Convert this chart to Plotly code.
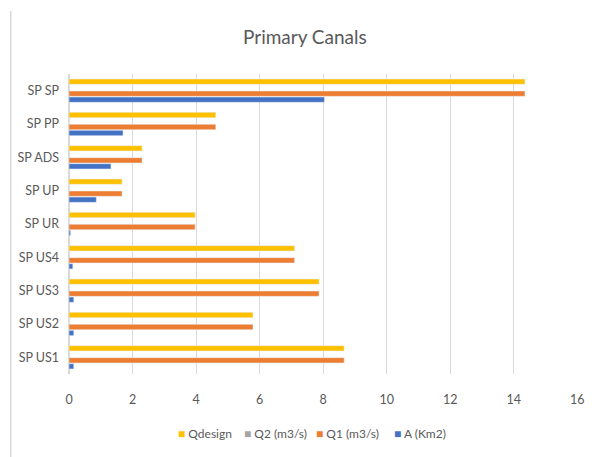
import plotly.graph_objects as go

categories = ["SP US1", "SP US2", "SP US3", "SP US4", "SP UR", "SP UP", "SP ADS", "SP PP", "SP SP"]
qdesign = [8.66, 5.79, 7.87, 7.10, 3.97, 1.67, 2.30, 4.62, 14.35]
q2 = [0, 0, 0, 0, 0, 0, 0, 0, 0]
q1 = [8.66, 5.79, 7.87, 7.10, 3.97, 1.67, 2.30, 4.62, 14.35]
area = [0.15, 0.15, 0.15, 0.12, 0.05, 0.86, 1.32, 1.70, 8.04]
x_ticks = [0, 2, 4, 6, 8, 10, 12, 14, 16]

series_names = ["A (Km2)", "Q1 (m3/s)", "Q2 (m3/s)", "Qdesign"]
series_colors = ["#4472C4", "#ED7D31", "#A5A5A5", "#FFC000"]
series_values = [area, q1, q2, qdesign]
legend_x = [0.634, 0.482, 0.339, 0.211]  # paper positions of legend entries

FONT = "Lato"
TXT = "#595959"

fig = go.Figure()
for name, color, vals in zip(series_names, series_colors, series_values):
    fig.add_trace(go.Bar(y=categories, x=vals, orientation="h", name=name,
                         marker_color=color, showlegend=False))

for name, color, lx in zip(series_names, series_colors, legend_x):
    fig.add_annotation(
        xref="paper", yref="paper", x=lx, y=-0.197, xanchor="left", yanchor="middle",
        showarrow=False,
        text=f"<span style='color:{color};font-size:12px'>■</span> {name}",
        font=dict(family=FONT, size=12, color=TXT),
    )

fig.update_layout(
    width=592, height=457,
    margin=dict(l=69, r=7, t=74, b=83),
    paper_bgcolor="white", plot_bgcolor="white",
    barmode="group", bargap=0.28, bargroupgap=0.12,
    font=dict(family=FONT, color=TXT, size=12),
    title=dict(text="Primary Canals", x=0.515, xanchor="center", y=0.919, yanchor="middle",
               font=dict(family=FONT, size=19, color=TXT)),
    showlegend=False,
)
fig.update_xaxes(range=[0, 16.02], tickvals=x_ticks, showgrid=True, gridcolor="#D9D9D9",
                 gridwidth=1, zeroline=True, zerolinecolor="#D9D9D9", showline=False,
                 ticks="", ticklabelstandoff=16, ticklabeloverflow="allow",
                 tickfont=dict(size=12.5, color=TXT))
fig.update_yaxes(categoryorder="array", categoryarray=categories, showgrid=False,
                 showline=False, ticks="", ticklabelstandoff=9, tickfont=dict(size=12.5, color=TXT))
fig.add_shape(type="line", xref="paper", yref="paper", x0=-0.1145, x1=-0.1145,
              y0=1.21, y1=-0.3, line=dict(color="#D9D9D9", width=1.5))

fig.write_html("out.html")
